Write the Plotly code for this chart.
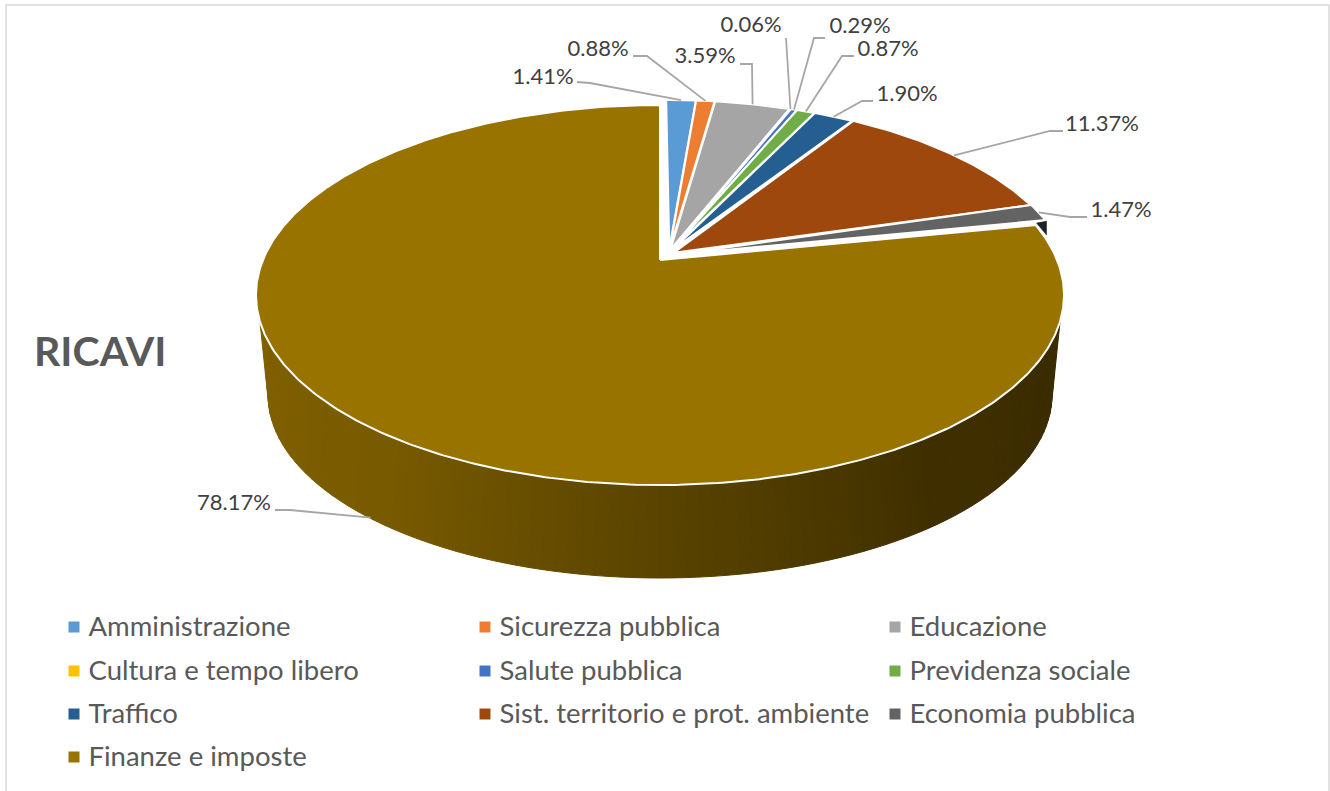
import math
import numpy as np
import plotly.graph_objects as go

# ---------- data ----------
categories = ["Amministrazione", "Sicurezza pubblica", "Educazione",
              "Cultura e tempo libero", "Salute pubblica", "Previdenza sociale",
              "Traffico", "Sist. territorio e prot. ambiente", "Economia pubblica",
              "Finanze e imposte"]
values = [1.41, 0.88, 3.59, 0.06, 0.29, 0.87, 1.90, 11.37, 1.47, 78.17]
colors = ["#5B9BD5", "#ED7D31", "#A5A5A5", "#FFC000", "#4472C4", "#70AD47",
          "#255E91", "#9E480E", "#636363", "#997300"]
title_text = "RICAVI"

# ---------- layout constants (pixel space) ----------
W, H = 1330, 791
CX, CY, RX, RY = 660, 295, 404, 190       # top ellipse
BCY, BRX, BRY = 395, 392, 183             # bottom ellipse
PERSP = 0.184                             # perspective shift of the pie centre
DEPTH = 92
label_pos = [(543, 78), (598, 50), (705, 57), (751, 26), (860, 27),
             (888, 50), (907, 95), (1102, 125), (1121, 211), (234, 504)]
leader_elbows = [[(577, 82), (590, 83)], [(633, 56), (647, 56)], [(740, 64), (752, 64)],
                 [(786, 38)], [(825, 38), (814, 38)], [(854, 56), (842, 56)],
                 [(873, 101), (862, 101)], [(1063, 131), (1050, 131)],
                 [(1087, 217), (1070, 217)], [(275, 510), (290, 510)]]
LEG_X = [74, 485, 895]
LEG_Y = [627, 671, 714, 757]
LEG_TEXT_Y_SHIFT = 2
side_stops = [(0.0, (0x80, 0x60, 0x00)), (0.25, (0x78, 0x5a, 0x00)), (0.5, (0x5a, 0x44, 0x00)),
              (0.75, (0x40, 0x30, 0x00)), (1.0, (0x3a, 0x2b, 0x00))]


def project(theta):
    u, v = math.sin(theta), math.cos(theta)
    d = 1 + PERSP * v
    return (CX + RX * u * math.sqrt(1 - PERSP ** 2) / d,
            CY - RY * (v + PERSP) / d)


def side_color(t):
    for (t0, c0), (t1, c1) in zip(side_stops, side_stops[1:]):
        if t <= t1:
            f = (t - t0) / (t1 - t0)
            return "rgb(%d,%d,%d)" % tuple(a + (b - a) * f for a, b in zip(c0, c1))
    return "rgb(58,43,0)"


total = sum(values)
fig = go.Figure()

# ---------- side wall ----------
N = 90
phis = np.linspace(math.radians(172), math.radians(8), N + 1)
psis = np.linspace(math.radians(178), math.radians(2), N + 1)
for i in range(N):
    xs, ys = [], []
    for p in (phis[i], phis[i + 1]):
        xs.append(CX + RX * math.cos(p)); ys.append(CY + RY * math.sin(p))
    for q in (psis[i + 1], psis[i]):
        xs.append(CX + BRX * math.cos(q)); ys.append(BCY + BRY * math.sin(q))
    c = side_color(i / (N - 1))
    fig.add_trace(go.Scatter(x=xs + xs[:1], y=ys + ys[:1], mode="lines", fill="toself",
                             fillcolor=c, line=dict(color=c, width=1),
                             hoverinfo="skip", showlegend=False))

# ---------- wedges ----------
cum = 0.0
wedges = []
for name, val, col in zip(categories, values, colors):
    a0 = cum / total * 2 * math.pi
    cum += val
    a1 = cum / total * 2 * math.pi
    wedges.append((name, val, col, a0, a1))

anchors = {}
order = [9] + list(range(9))
for idx in order:
    name, val, col, a0, a1 = wedges[idx]
    mid = (a0 + a1) / 2
    arc = [project(t) for t in np.linspace(a0, a1, max(4, int((a1 - a0) * 90)))]
    if idx == 9:
        dx, dy = 0, 0
        apex = (CX, CY - RY * PERSP)
        mx, my = project(mid)
        anchors[idx] = (mx + 4, my + DEPTH)
    else:
        s = math.sin(mid)
        dx, dy = 6 + 4 * s, -5
        apex = (669 + 6 * s, 249 + 6 * s * s)
        mx, my = project(mid)
        anchors[idx] = (mx + dx, my + dy)
    xs = [apex[0]] + [p[0] + dx for p in arc] + [apex[0]]
    ys = [apex[1]] + [p[1] + dy for p in arc] + [apex[1]]
    if idx == 8:
        rx_, ry_ = arc[-1][0] + dx, arc[-1][1] + dy
        fig.add_trace(go.Scatter(x=[rx_ - 9, rx_ + 1, rx_ + 1, rx_ - 9],
                                 y=[ry_ + 3, ry_ + 1, ry_ + 15, ry_ + 3],
                                 mode="lines", fill="toself", fillcolor="#1f2128",
                                 line=dict(color="#1f2128", width=0.5),
                                 hoverinfo="skip", showlegend=False))
    fig.add_trace(go.Scatter(x=xs, y=ys, mode="lines", fill="toself", fillcolor=col,
                             line=dict(color="white", width=2), name=name,
                             text="%s: %.2f%%" % (name, val), hoverinfo="text",
                             showlegend=False))

# ---------- leader lines ----------
for i in range(len(values)):
    pts = leader_elbows[i] + [anchors[i]]
    fig.add_trace(go.Scatter(x=[p[0] for p in pts], y=[p[1] for p in pts], mode="lines",
                             line=dict(color="#A6A6A6", width=1.8),
                             hoverinfo="skip", showlegend=False))

# ---------- data labels ----------
fig.add_trace(go.Scatter(x=[p[0] for p in label_pos], y=[p[1] for p in label_pos],
                         mode="text", text=["%.2f%%" % v for v in values],
                         textposition="middle center",
                         textfont=dict(family="Lato", size=22, color="#404040"),
                         hoverinfo="skip", showlegend=False))

# ---------- legend ----------
for i, (name, col) in enumerate(zip(categories, colors)):
    lx, ly = LEG_X[i % 3], LEG_Y[i // 3]
    fig.add_trace(go.Scatter(x=[lx], y=[ly], mode="markers",
                             marker=dict(symbol="square", size=11, color=col),
                             hoverinfo="skip", showlegend=False))
    fig.add_trace(go.Scatter(x=[lx + 14.5], y=[ly + LEG_TEXT_Y_SHIFT], mode="text", text=[name],
                             textposition="middle right",
                             textfont=dict(family="Lato", size=27.5, color="#595959"),
                             hoverinfo="skip", showlegend=False))

# ---------- frame ----------
fig.add_shape(type="path", path="M 6 791 L 6 5 L 1329 5 L 1329 791",
              line=dict(color="#D9D9D9", width=1.5))

fig.update_layout(
    width=W, height=H, autosize=False,
    margin=dict(l=0, r=0, t=0, b=0),
    paper_bgcolor="white", plot_bgcolor="white",
    xaxis=dict(range=[0, W], visible=False, fixedrange=True),
    yaxis=dict(range=[H, 0], visible=False, fixedrange=True),
    title=dict(text="<b>%s</b>" % title_text, x=34 / W, xanchor="left", y=1 - 352 / H,
               yanchor="middle", font=dict(family="Lato", size=41, color="#595959")),
    showlegend=False,
)
fig.write_html("out.html", config={"displayModeBar": False},
               post_script="document.body.style.margin='0';document.body.style.overflow='hidden';")
